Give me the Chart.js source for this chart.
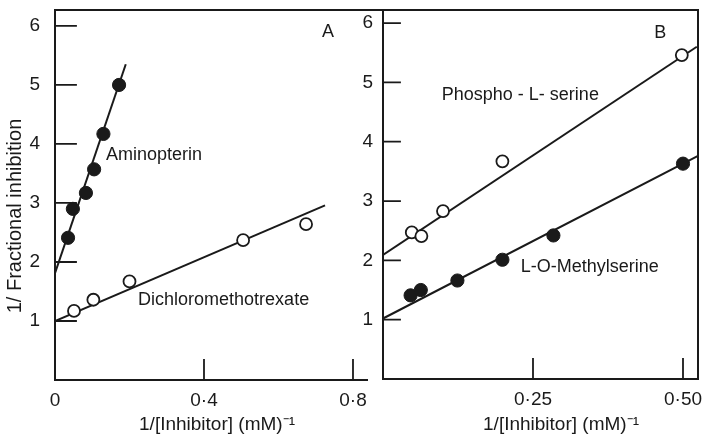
<!DOCTYPE html>
<html>
<head>
<meta charset="utf-8">
<script src="https://cdn.jsdelivr.net/npm/chart.js@4.4.0/dist/chart.umd.min.js"></script>
<style>
  html, body { margin: 0; padding: 0; background: #fff; }
  #wrap { position: relative; width: 711px; height: 439px; overflow: hidden; background: #fff; }
  canvas { position: absolute; top: 0; }
  #cA { left: 0; }
  #cB { left: 340px; }
</style>
</head>
<body>
<div id="wrap">
  <canvas id="cA" width="383" height="439"></canvas>
  <canvas id="cB" width="371" height="439"></canvas>
</div>
<script>
// ---------- DATA ----------
const yTickValues = [1, 2, 3, 4, 5, 6];
const yTickLabels = ['1', '2', '3', '4', '5', '6'];

// Panel A
const xTickValuesA = [0, 0.4, 0.8];
const xTickLabelsA = ['0', '0·4', '0·8'];
const aminopterinX = [0.035, 0.048, 0.083, 0.105, 0.13, 0.172];
const aminopterinY = [2.41, 2.90, 3.17, 3.57, 4.17, 5.00];
const aminopterinFitX = [0, 0.19];
const aminopterinFitY = [1.81, 5.35];
const dichloroX = [0.051, 0.103, 0.20, 0.505, 0.674];
const dichloroY = [1.17, 1.36, 1.67, 2.37, 2.64];
const dichloroFitX = [0, 0.725];
const dichloroFitY = [1.00, 2.96];

// Panel B
const xTickValuesB = [0.25, 0.5];
const xTickLabelsB = ['0·25', '0·50'];
const phosphoX = [0.048, 0.064, 0.10, 0.199, 0.498];
const phosphoY = [2.47, 2.41, 2.83, 3.67, 5.46];
const phosphoFitX = [0, 0.523];
const phosphoFitY = [2.09, 5.60];
const methylX = [0.046, 0.063, 0.124, 0.199, 0.284, 0.50];
const methylY = [1.41, 1.50, 1.66, 2.01, 2.42, 3.63];
const methylFitX = [0, 0.525];
const methylFitY = [1.02, 3.76];

// Text
const yAxisTitle = '1/ Fractional inhibition';
const xAxisTitle = '1/[Inhibitor] (mM)⁻¹';
const labelsA = [
  { text: 'Aminopterin', x: 0.137, y: 3.81, align: 'left' },
  { text: 'Dichloromethotrexate', x: 0.223, y: 1.36, align: 'left' },
  { text: 'A', x: 0.733, y: 5.90, align: 'center' }
];
const labelsB = [
  { text: 'Phospho - L- serine', x: 0.098, y: 4.78, align: 'left' },
  { text: 'L-O-Methylserine', x: 0.2295, y: 1.89, align: 'left' },
  { text: 'B', x: 0.462, y: 5.83, align: 'center' }
];

// ---------- HELPERS ----------
const FONT = '"Liberation Sans", Arial, sans-serif';
const INK = '#1a1a1a';
const pts = (xs, ys) => xs.map((x, i) => ({ x, y: ys[i] }));

function fitLine(xs, ys) {
  return { type: 'line', data: pts(xs, ys), borderColor: INK, borderWidth: 2,
           pointRadius: 0, fill: false, tension: 0, order: 2 };
}
function filled(xs, ys) {
  return { type: 'scatter', data: pts(xs, ys), pointRadius: 6.6, pointBorderWidth: 1,
           pointBackgroundColor: INK, pointBorderColor: INK, order: 1 };
}
function open(xs, ys) {
  return { type: 'scatter', data: pts(xs, ys), pointRadius: 6, pointBorderWidth: 1.8,
           pointBackgroundColor: '#fff', pointBorderColor: INK, order: 1 };
}

const decorPlugin = {
  id: 'decor',
  afterDatasetsDraw(chart) {
    const o = chart.options.plugins.decor;
    const { ctx, chartArea: ca, scales } = chart;
    ctx.save();
    ctx.strokeStyle = INK;
    ctx.lineWidth = 2;
    ctx.lineCap = 'square';
    // axes + frame
    ctx.beginPath();
    ctx.moveTo(ca.left, ca.bottom); ctx.lineTo(ca.left, ca.top);
    ctx.moveTo(ca.left, ca.bottom); ctx.lineTo(ca.right, ca.bottom);
    ctx.moveTo(ca.left, ca.top); ctx.lineTo(o.topRight, ca.top);
    if (o.rightBorder) { ctx.moveTo(ca.right, ca.top); ctx.lineTo(ca.right, ca.bottom); }
    ctx.stroke();
    // inward ticks
    ctx.lineWidth = 1.8;
    ctx.beginPath();
    yTickValues.forEach(v => {
      const py = scales.y.getPixelForValue(v);
      ctx.moveTo(ca.left, py); ctx.lineTo(ca.left + o.yTickLen, py);
    });
    o.xTicks.forEach(v => {
      if (v === 0) return;
      const px = scales.x.getPixelForValue(v);
      ctx.moveTo(px, ca.bottom); ctx.lineTo(px, ca.bottom - o.xTickLen);
    });
    ctx.stroke();
    // labels
    ctx.fillStyle = INK;
    ctx.textBaseline = 'middle';
    ctx.font = '18px ' + FONT;
    o.labels.forEach(l => {
      ctx.textAlign = l.align;
      ctx.fillText(l.text, scales.x.getPixelForValue(l.x), scales.y.getPixelForValue(l.y));
    });
    // x-axis title
    ctx.font = '19px ' + FONT;
    ctx.textAlign = 'center';
    ctx.fillText(xAxisTitle, o.xTitleX, o.xTitleY);
    // y-axis title
    if (o.yTitle) {
      ctx.translate(o.yTitle.x, o.yTitle.y);
      ctx.rotate(-Math.PI / 2);
      ctx.font = '20px ' + FONT;
      ctx.textAlign = 'center';
      ctx.fillText(yAxisTitle, 0, 0);
    }
    ctx.restore();
  }
};

function makeChart(id, cfg) {
  return new Chart(document.getElementById(id), {
    data: { datasets: cfg.datasets },
    options: {
      responsive: false,
      animation: false,
      devicePixelRatio: 1,
      layout: { padding: { top: 10, right: cfg.padRight, left: 0, bottom: 0 } },
      plugins: {
        legend: { display: false },
        tooltip: { enabled: false },
        decor: cfg.decor
      },
      scales: {
        x: {
          type: 'linear', min: 0, max: cfg.xMax,
          grid: { display: false, drawTicks: false }, border: { display: false },
          afterFit: s => { s.height = cfg.xAxisH; s.paddingLeft = 0; s.paddingRight = 0; s.paddingTop = 0; s.paddingBottom = 0; },
          afterBuildTicks: s => { s.ticks = cfg.xTicks.map(v => ({ value: v })); },
          ticks: {
            autoSkip: false, maxRotation: 0, padding: 9, color: INK,
            font: { family: FONT, size: 19 },
            callback: v => { const i = cfg.xTicks.indexOf(v); return i >= 0 ? cfg.xLabels[i] : ''; }
          }
        },
        y: {
          type: 'linear', min: 0, max: cfg.yMax,
          grid: { display: false, drawTicks: false }, border: { display: false },
          afterFit: s => { s.width = cfg.yAxisW; s.paddingTop = 0; s.paddingBottom = 0; s.paddingLeft = 0; s.paddingRight = 0; },
          afterBuildTicks: s => { s.ticks = yTickValues.map(v => ({ value: v })); },
          ticks: {
            autoSkip: false, padding: cfg.yPad, color: INK,
            font: { family: FONT, size: 19 },
            callback: v => { const i = yTickValues.indexOf(v); return i >= 0 ? yTickLabels[i] : ''; }
          }
        }
      }
    },
    plugins: [decorPlugin]
  });
}

makeChart('cA', {
  datasets: [
    filled(aminopterinX, aminopterinY),
    open(dichloroX, dichloroY),
    fitLine(aminopterinFitX, aminopterinFitY),
    fitLine(dichloroFitX, dichloroFitY)
  ],
  xMax: 0.8376, yMax: 6.27, xTicks: xTickValuesA, xLabels: xTickLabelsA,
  padRight: 16, xAxisH: 59, yAxisW: 55, yPad: 15,
  decor: { topRight: 383, rightBorder: false, yTickLen: 21, xTickLen: 20,
           labels: labelsA, xTicks: xTickValuesA, xTitleX: 217, xTitleY: 425,
           yTitle: { x: 15, y: 216 } }
});

makeChart('cB', {
  datasets: [
    open(phosphoX, phosphoY),
    filled(methylX, methylY),
    fitLine(phosphoFitX, phosphoFitY),
    fitLine(methylFitX, methylFitY)
  ],
  xMax: 0.525, yMax: 6.22, xTicks: xTickValuesB, xLabels: xTickLabelsB,
  padRight: 13, xAxisH: 60, yAxisW: 43, yPad: 10,
  decor: { topRight: 358, rightBorder: true, yTickLen: 17, xTickLen: 20,
           labels: labelsB, xTicks: xTickValuesB, xTitleX: 561 - 340, xTitleY: 425,
           yTitle: null }
});
</script>
</body>
</html>
